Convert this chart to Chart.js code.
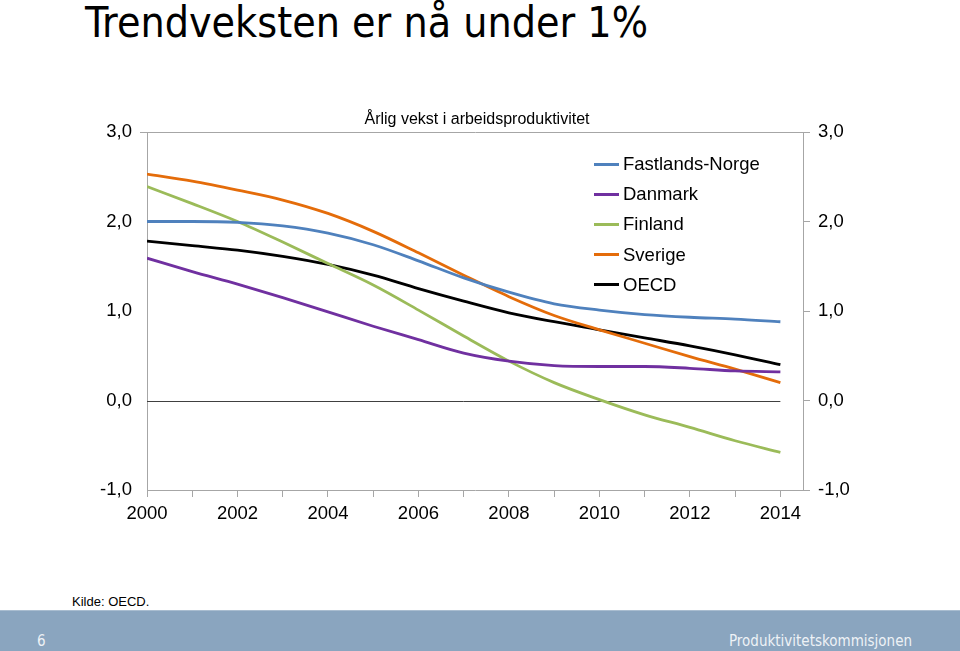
<!DOCTYPE html>
<html>
<head>
<meta charset="utf-8">
<script src="https://cdn.jsdelivr.net/npm/chart.js@4"></script>
<style>
  html, body { margin: 0; padding: 0; background: #fff; }
  #page { position: relative; width: 960px; height: 651px; overflow: hidden; font-family: "Liberation Sans", Arial, sans-serif; }
  #title { position: absolute; left: 85px; top: -2px; font-family: "DejaVu Sans Condensed", "DejaVu Sans", sans-serif; font-size: 42.5px; color: #000; white-space: nowrap; }
  #subtitle { position: absolute; left: 0; width: 954px; text-align: center; top: 110px; font-size: 16px; color: #000; }
  #chartBox { position: absolute; left: 0; top: 0; width: 960px; height: 560px; }
  #legend { position: absolute; left: 594px; top: 149px; font-size: 18.5px; color: #000; }
  #legend div { height: 30.2px; display: flex; align-items: center; }
  #legend span.sw { display: inline-block; width: 25px; height: 3px; margin-right: 4px; }
  #source { position: absolute; left: 72px; top: 594px; font-size: 13px; color: #000; }
  #footer { position: absolute; left: 0; top: 610px; width: 960px; height: 41px; background: #8aa5bf; border-top: 1px solid #a9bdd0; box-sizing: border-box; font-family: "DejaVu Sans Condensed", sans-serif; color: #eef2f6; font-size: 15px; }
  #footer .num { position: absolute; left: 37px; top: 21px; }
  #footer .org { position: absolute; right: 48px; top: 21px; }
</style>
</head>
<body>
<div id="page">
  <div id="title">Trendveksten er nå under 1%</div>
  <div id="chartBox"><canvas id="prodChart"></canvas></div>
  <div id="subtitle">Årlig vekst i arbeidsproduktivitet</div>
  <div id="legend"></div>
  <div id="source">Kilde: OECD.</div>
  <div id="footer"><span class="num">6</span><span class="org">Produktivitetskommisjonen</span></div>
</div>
<script>
// data
const years = [2000, 2001, 2002, 2003, 2004, 2005, 2006, 2007, 2008, 2009, 2010, 2011, 2012, 2013, 2014];
const seriesNames = ['Fastlands-Norge', 'Danmark', 'Finland', 'Sverige', 'OECD'];
const seriesColors = ['#4f81bd', '#7030a0', '#9bbb59', '#e46c0a', '#000000'];
const norge   = [2.00, 2.00, 1.99, 1.95, 1.87, 1.74, 1.56, 1.37, 1.21, 1.08, 1.01, 0.96, 0.93, 0.91, 0.88];
const danmark = [1.59, 1.44, 1.30, 1.15, 0.99, 0.83, 0.68, 0.53, 0.44, 0.39, 0.38, 0.38, 0.36, 0.33, 0.32];
const finland = [2.39, 2.20, 2.00, 1.77, 1.53, 1.29, 1.01, 0.72, 0.44, 0.20, 0.01, -0.16, -0.30, -0.45, -0.58];
const sverige = [2.53, 2.45, 2.35, 2.24, 2.09, 1.89, 1.65, 1.40, 1.16, 0.95, 0.79, 0.64, 0.49, 0.35, 0.20];
const oecd    = [1.78, 1.73, 1.68, 1.61, 1.52, 1.40, 1.25, 1.11, 0.98, 0.88, 0.79, 0.70, 0.61, 0.51, 0.40];
const yTicks = [-1, 0, 1, 2, 3];
const xLabelYears = [2000, 2002, 2004, 2006, 2008, 2010, 2012, 2014];

const allSeries = [norge, danmark, finland, sverige, oecd];

function fmt(v) { return v.toFixed(1).replace('.', ','); }

// legend as html, built from the names and colours
const legendEl = document.getElementById('legend');
seriesNames.forEach(function(name, i) {
    const row = document.createElement('div');
    row.innerHTML = '<span class="sw" style="background:' + seriesColors[i] + '"></span>' + name;
    legendEl.appendChild(row);
});

// zero line only spans the data years
const zeroLine = {
    id: 'zeroLine',
    beforeDatasetsDraw(chart) {
        const x = chart.scales.x, y = chart.scales.y;
        const ctx = chart.ctx;
        ctx.save();
        ctx.strokeStyle = '#404040';
        ctx.lineWidth = 1;
        ctx.beginPath();
        const py = Math.round(y.getPixelForValue(0)) + 0.5;
        ctx.moveTo(x.getPixelForValue(years[0]), py);
        ctx.lineTo(x.getPixelForValue(years[years.length - 1]), py);
        ctx.stroke();
        ctx.restore();
    }
};

const ctx = document.getElementById('prodChart');
const datasets = allSeries.map(function(vals, i) {
    return {
        label: seriesNames[i],
        data: vals.map(function(v, j) { return { x: years[j], y: v }; }),
        borderColor: seriesColors[i], backgroundColor: seriesColors[i],
        borderWidth: 2.8, pointRadius: 0, cubicInterpolationMode: 'monotone'
    };
});

const tickFont = { family: "'Liberation Sans', Arial, sans-serif", size: 18.5 };
const yCommon = {
    type: 'linear', min: -1, max: 3,
    afterBuildTicks: function(scale) { scale.ticks = yTicks.map(function(v) { return { value: v }; }); },
    ticks: { color: '#000', font: tickFont, padding: 8, callback: function(v) { return fmt(v); } },
    border: { display: true, color: '#a6a6a6', width: 1 }
};

new Chart(ctx, {
    type: 'line',
    data: { datasets: datasets },
    options: {
        responsive: true, maintainAspectRatio: false, animation: false,
        layout: { padding: { top: 132, left: 0, right: 0, bottom: 0 } },
        plugins: { legend: { display: false }, tooltip: { enabled: false }, title: { display: false } },
        scales: {
            x: {
                type: 'linear', min: 2000, max: 2014.5,
                afterBuildTicks: function(scale) { scale.ticks = years.map(function(v) { return { value: v }; }); },
                afterFit: function(scale) { scale.height = 70; },
                ticks: {
                    color: '#000', font: tickFont, padding: 6, maxRotation: 0, autoSkip: false,
                    callback: function(v) { return xLabelYears.indexOf(v) >= 0 ? String(v) : ''; }
                },
                grid: { display: true, drawOnChartArea: false, drawTicks: true, tickLength: 7, color: '#a6a6a6' },
                border: { display: true, color: '#a6a6a6', width: 1 }
            },
            y: Object.assign({}, yCommon, {
                position: 'left',
                afterFit: function(scale) { scale.width = 147; },
                grid: {
                    drawTicks: true, tickLength: 7,
                    color: function(c) { return c.tick && c.tick.value === 3 ? '#a6a6a6' : 'rgba(0,0,0,0)'; }
                }
            }),
            y2: Object.assign({}, yCommon, {
                position: 'right',
                afterFit: function(scale) { scale.width = 157; },
                grid: { drawOnChartArea: false, drawTicks: true, tickLength: 7, color: '#a6a6a6' }
            })
        }
    },
    plugins: [zeroLine]
});
</script>
</body>
</html>
